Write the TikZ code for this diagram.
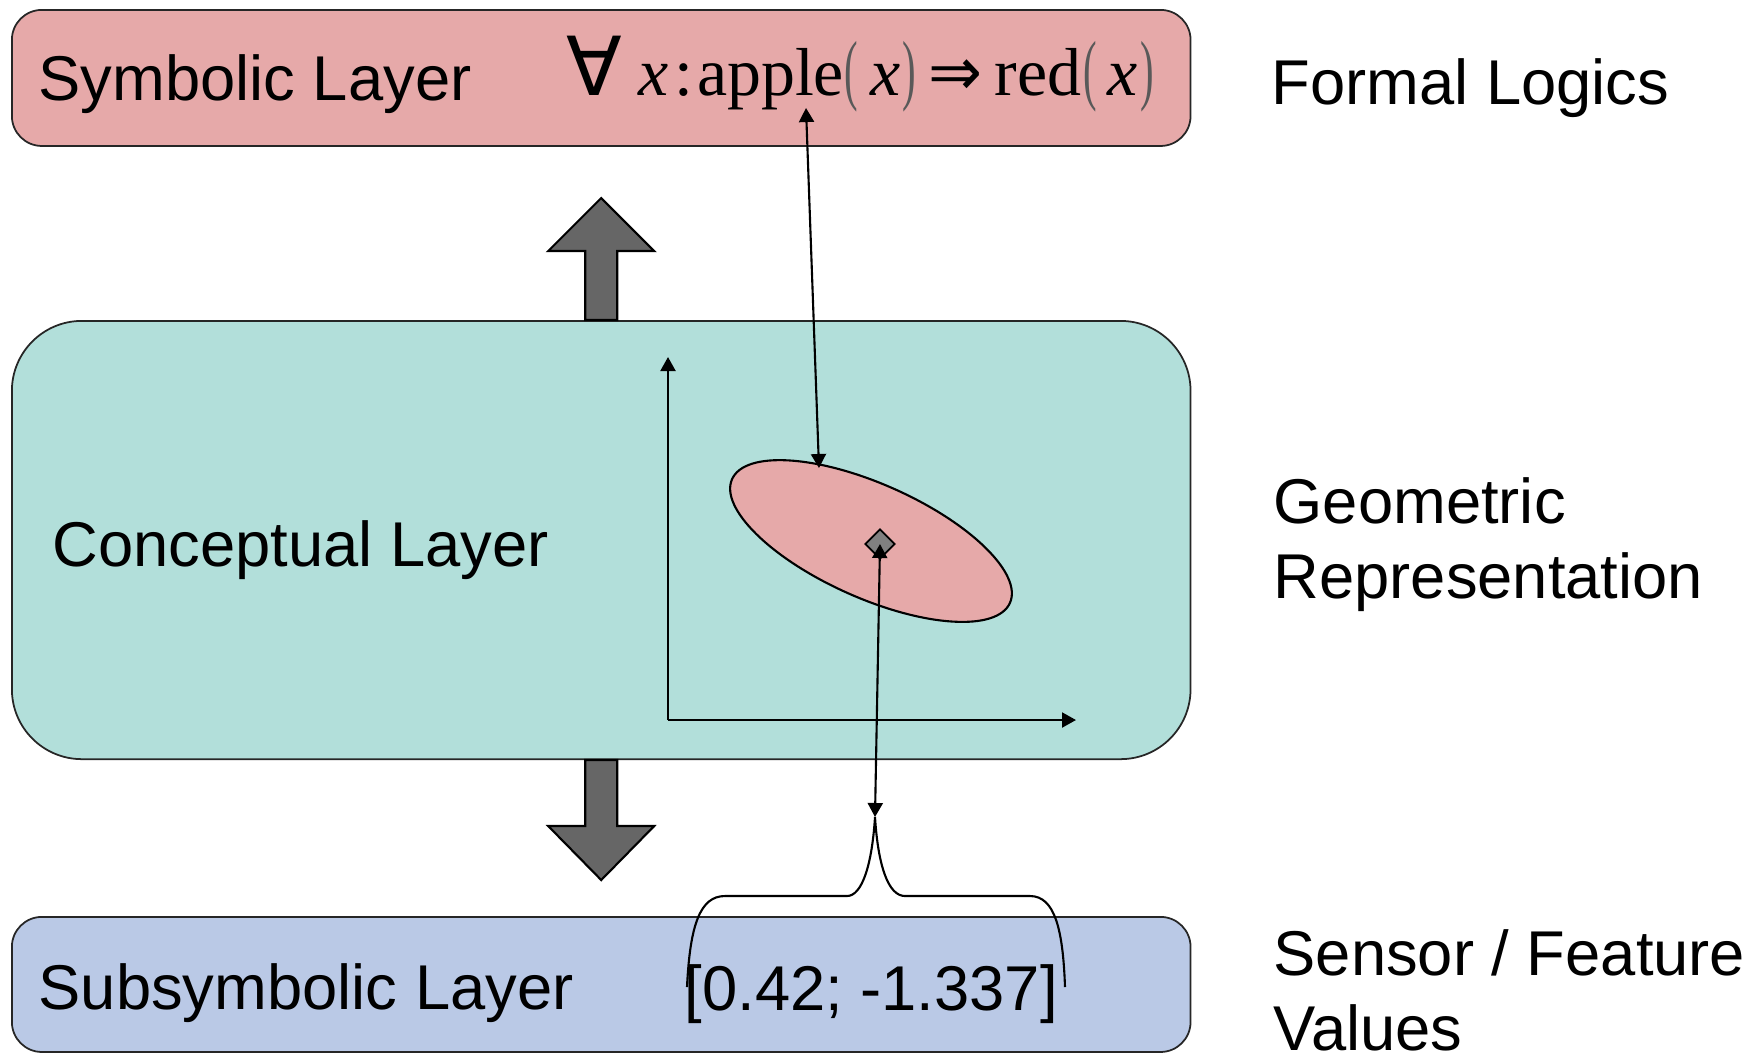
\documentclass[tikz,border=0pt]{standalone}
\usepackage{fontspec}
\setmainfont{Liberation Sans}
\newfontfamily\formulafont{Liberation Serif}
\newfontfamily\symbolfont{DejaVu Sans}
\usepackage{graphicx}
\usepackage{tikz}
\usetikzlibrary{arrows.meta, positioning, shapes.geometric}

\definecolor{symred}{RGB}{230,169,169}
\definecolor{concgreen}{RGB}{178,223,218}
\definecolor{subblue}{RGB}{186,201,230}
\definecolor{arrowgray}{RGB}{102,102,102}
\definecolor{pointgray}{RGB}{128,128,128}

\newcommand{\thinparen}[1]{\scalebox{0.6}[1.15]{\color{black!65}#1}}

\begin{document}
\begin{tikzpicture}[x=0.01cm, y=-0.01cm,
  layer/.style={draw=black!85, line width=0.5pt, inner sep=0, anchor=north west},
  txt/.style={inner sep=0, anchor=base west, font=\fontsize{18}{21.3}\selectfont, align=left},
  link/.style={{Triangle[length=0.14cm,width=0.15cm]}-{Triangle[length=0.14cm,width=0.15cm]}, line width=0.6pt},
  axis/.style={-{Triangle[length=0.14cm,width=0.15cm]}, line width=0.6pt},
  bigarrow/.style={draw=black, line width=0.6pt, fill=arrowgray}]
  \useasboundingbox (0,0) rectangle (1748,1053);

  \node[layer, fill=symred, rounded corners=0.3cm, minimum width=11.78cm, minimum height=1.36cm] (symbolic) at (11,9) {};
  \node[layer, fill=concgreen, rounded corners=0.7cm, minimum width=11.78cm, minimum height=4.38cm] (conceptual) at (11,320) {};
  \node[layer, fill=subblue, rounded corners=0.3cm, minimum width=11.78cm, minimum height=1.35cm] (subsymbolic) at (11,916) {};

  \draw[bigarrow] (conceptual.north) ++(-16,0) -- ++(0,-69) -- ++(-37,0) -- ++(53,-53) -- ++(53,53) -- ++(-37,0) -- ++(0,69) -- cycle;
  \draw[bigarrow] (conceptual.south) ++(-16,0) -- ++(0,66) -- ++(-37,0) -- ++(53,54) -- ++(53,-54) -- ++(-37,0) -- ++(0,-66) -- cycle;

  \node[txt] (symlabel) at (38,100) {Symbolic Layer};
  \node[txt] (conclabel) at (52,566) {Conceptual Layer};
  \node[txt] (sublabel) at (38,1009) {Subsymbolic Layer};
  \node[txt] (formal) at (1271,104) {Formal Logics};
  \node[txt] (geometric) at (1273,598) {Geometric\\Representation};
  \node[txt] (sensor) at (1273,1050) {Sensor / Feature\\Values};
  \node[txt] (vector) at (684,1010) {[0.42; -1.337]};
  \node[txt, font=\formulafont\fontsize{19.3}{22}\selectfont] (formula) at (566,95)
    {{\symbolfont\scalebox{1.2}{∀}}\hspace{4.5pt}\textit{x}\hspace{1.8pt}:\hspace{1pt}apple\hspace{0.1pt}\thinparen{(}\hspace{3.5pt}\textit{x}\hspace{0.5pt}\thinparen{)}\hspace{3.5pt}{\symbolfont\scalebox{0.95}[1]{⇒}}\hspace{3.6pt}red\hspace{0.5pt}\thinparen{(}\hspace{3pt}\textit{x}\hspace{1pt}\thinparen{)}};

  \coordinate (origin) at (668,720);
  \draw[axis] (origin) -- (668,357);
  \draw[axis] (origin) -- (1076,720);

  \node[draw, ellipse, fill=symred, line width=0.6pt, inner sep=0, minimum width=3.04cm, minimum height=1.14cm, rotate=-24] (concept) at (871,541) {};
  \node[draw, diamond, fill=pointgray, line width=0.5pt, inner sep=0, minimum size=0.3cm] (point) at (880,544) {};

  \coordinate (applept) at (806,108);
  \coordinate (concepttop) at (819,468);
  \coordinate (bracetip) at (875,817);
  \draw[link] (applept) -- (concepttop);
  \draw[link] (point.center) -- (bracetip);

  \draw[line width=0.6pt] (687,987) .. controls (690,925) and (700,896) .. (725,896) -- (847,896)
    .. controls (862,896) and (872,865) .. (bracetip)
    .. controls (878,865) and (888,896) .. (905,896) -- (1030,896)
    .. controls (1055,896) and (1063,930) .. (1065,987);
\end{tikzpicture}
\end{document}
